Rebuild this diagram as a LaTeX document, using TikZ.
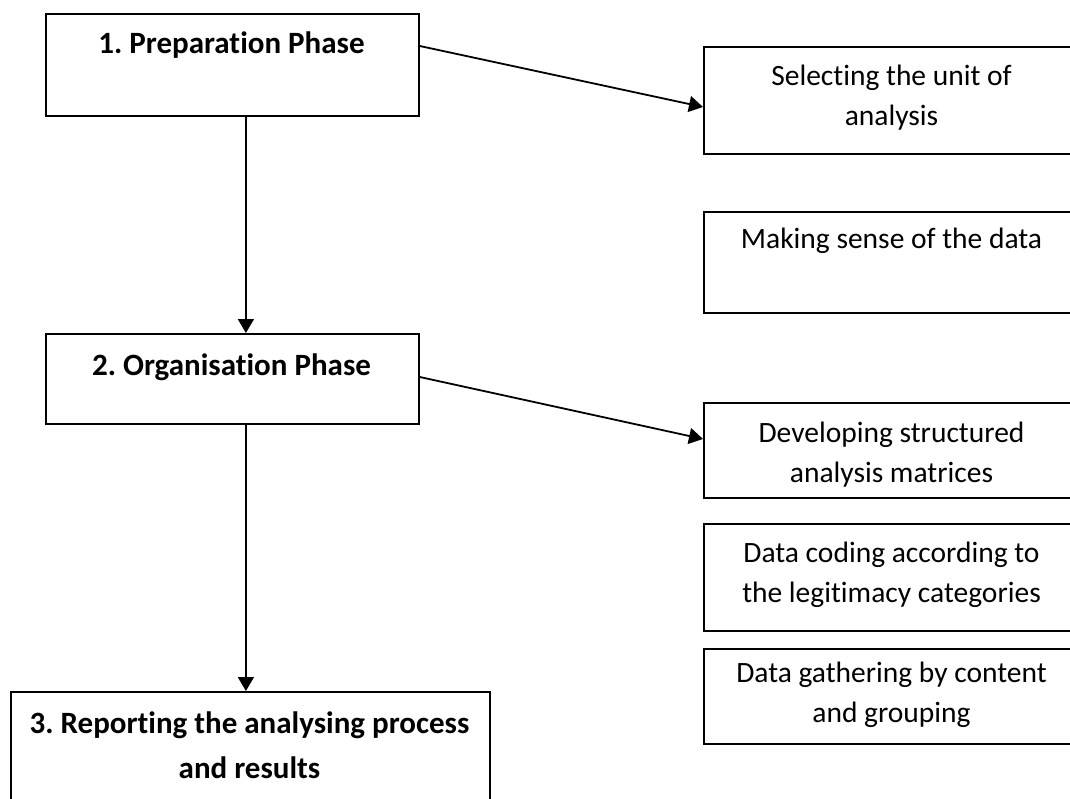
\documentclass[tikz,border=0pt]{standalone}
\usepackage{fontspec}
\setmainfont[Ligatures={NoCommon}]{Carlito}
\usetikzlibrary{arrows.meta}
\frenchspacing
\begin{document}
\begin{tikzpicture}[x=1pt,y=-1pt,
  box/.style={draw=black,line width=1.8pt,anchor=north west,inner sep=0pt},
  phase/.style={anchor=base,align=center,inner sep=0pt,font=\fontsize{31}{45}\selectfont\bfseries\frenchspacing},
  task/.style={anchor=base,align=center,inner sep=0pt,font=\fontsize{29.5}{40}\selectfont},
  arr/.style={line width=1.8pt,-{Triangle[length=14pt,width=16pt]}}]
\clip (0,0) rectangle (1070,798);
\fill[white] (0,0) rectangle (1070,798);
% left phase boxes
\node[box,minimum width=373pt,minimum height=102pt] (p1) at (45,13) {};
\node[box,minimum width=373pt,minimum height=90pt] (p2) at (45,333) {};
\node[box,minimum width=479pt,minimum height=130pt] (p3) at (10,691) {};
\node[phase] (p1t) at (231.5,53) {1. Preparation Phase};
\node[phase] (p2t) at (231.5,375) {2. Organisation Phase};
\node[phase] (p3t) at (249.5,778) {3. Reporting the analysing process\\and results};
% right task boxes
\node[box,minimum width=377pt,minimum height=107pt] (s1) at (703,46) {};
\node[box,minimum width=377pt,minimum height=101pt] (s2) at (703,211) {};
\node[box,minimum width=377pt,minimum height=95pt] (s3) at (703,402) {};
\node[box,minimum width=377pt,minimum height=107pt] (s4) at (703,523) {};
\node[box,minimum width=377pt,minimum height=95pt] (s5) at (703,648) {};
\node[task] (s1t) at (891.5,125) {Selecting the unit of\\analysis};
\node[task] (s2t) at (891.5,248) {Making sense of the data};
\node[task] (s3t) at (891.5,482) {Developing structured\\analysis matrices};
\node[task] (s4t) at (891.5,602) {Data coding according to\\the legitimacy categories};
\node[task] (s5t) at (891.5,722) {Data gathering by content\\and grouping};
% connectors
\draw[arr] ([xshift=13.5pt]p1.south) -- ([xshift=13.5pt]p2.north);
\draw[arr] ([xshift=13.5pt]p2.south) -- ([xshift=13.5pt]p2.south |- p3.north);
\draw[arr] ([yshift=-33pt]p1.north east) -- ([yshift=-61pt]s1.north west);
\draw[arr] ([yshift=-44pt]p2.north east) -- ([yshift=-37pt]s3.north west);
\end{tikzpicture}
\end{document}
